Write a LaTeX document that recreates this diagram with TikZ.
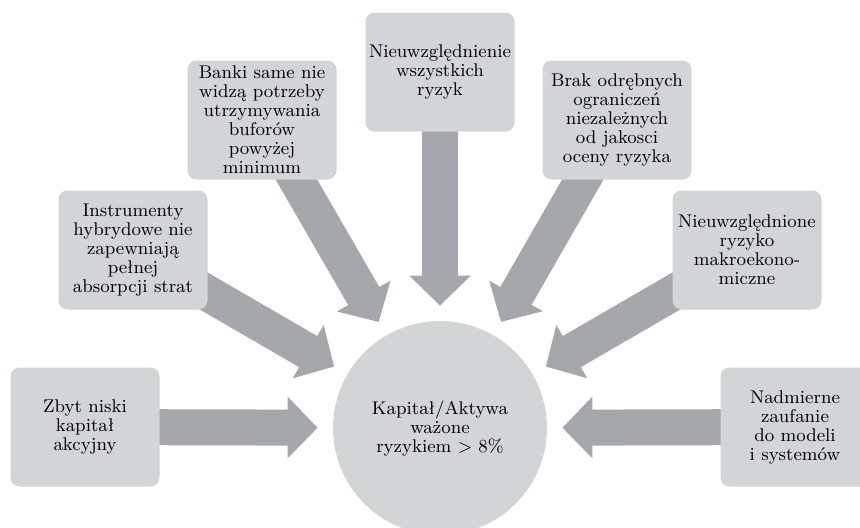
\documentclass[tikz,border=0pt]{standalone}
\usepackage{tikz}
\usetikzlibrary{arrows.meta,backgrounds}

\definecolor{boxgray}{RGB}{211,212,214}
\definecolor{arrowgray}{RGB}{166,167,170}

\begin{document}
\begin{tikzpicture}[x=0.5pt,y=-0.5pt,
	every node/.style={font=\fontsize{9.2}{9.5}\selectfont, align=center},
	cause/.style={fill=boxgray, rounded corners=4.5pt, minimum width=74.5pt, minimum height=59.5pt, inner sep=0pt},
	hub/.style={circle, fill=boxgray, minimum size=107pt, inner sep=0pt},
	push/.style={draw=arrowgray, line width=18pt, shorten >=7.5pt, -{Triangle[width=30pt,length=15pt]}}]
	\useasboundingbox (0,0) rectangle (860,527);
	\node[hub] (ratio) at (440,428) {Kapitał/Aktywa\\ważone\\ryzykiem $>$ 8\%};
	\node[cause] (equity) at (85,427) {Zbyt niski\\kapitał\\akcyjny};
	\node[cause] (hybrid) at (133,250) {Instrumenty\\hybrydowe nie\\zapewniają\\pełnej\\absorpcji strat};
	\node[cause] (buffers) at (262,120) {Banki same nie\\widzą potrzeby\\utrzymywania\\buforów\\powyżej\\minimum};
	\node[cause] (allrisks) at (440,72) {Nieuwzględnienie\\wszystkich\\ryzyk};
	\node[cause] (limits) at (617,120) {Brak odrębnych\\ograniczeń\\niezależnych\\od jakosci\\oceny ryzyka};
	\node[cause] (macro) at (747,250) {Nieuwzględnione\\ryzyko\\makroekono-\\miczne};
	\node[cause] (models) at (795,427) {Nadmierne\\zaufanie\\do modeli\\i systemów};
	\begin{scope}[on background layer]
		\foreach \src in {equity,hybrid,buffers,allrisks,limits,macro,models}
			\draw[push] (\src.center) -- (ratio);
	\end{scope}
\end{tikzpicture}
\end{document}
